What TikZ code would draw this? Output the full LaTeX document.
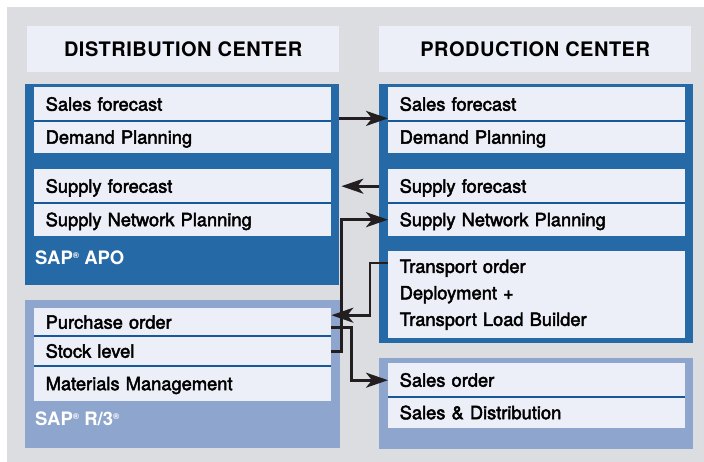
\documentclass[tikz,border=0pt]{standalone}
\usepackage{fontspec}
\setmainfont{TeX Gyre Heros}
\newfontface\cellfont{TeX Gyre Heros}[FakeBold=2.5]
\usepackage{tikz}
\usetikzlibrary{arrows.meta}

\definecolor{bggray}{RGB}{220,221,224}
\definecolor{apoblue}{RGB}{37,105,166}
\definecolor{rthreeblue}{RGB}{142,165,205}
\definecolor{cellbg}{RGB}{236,239,247}
\definecolor{rulebl}{RGB}{22,88,153}
\definecolor{arrowink}{RGB}{35,31,32}

\newcommand\regmark{\raisebox{6pt}{\fontsize{8.5}{8.5}\selectfont\textregistered}}

\begin{document}
\begin{tikzpicture}[>={Stealth[length=22pt,width=15pt,inset=6pt]},x=1pt,y=-1pt,
    cell/.style={rectangle,fill=cellbg,anchor=north west,inner xsep=11.5pt,inner ysep=0pt,
      text width=274pt,align=left,font=\cellfont\fontsize{18.3}{26.5}\selectfont},
    oneline/.style={cell,text height=13pt,text depth=0pt,minimum height=#1},
    head/.style={rectangle,fill=cellbg,anchor=north west,minimum width=312pt,minimum height=46pt,
      text height=14pt,text depth=0pt,
      font=\fontsize{20}{24}\selectfont\bfseries\addfontfeatures{LetterSpace=2.5}},
    brand/.style={anchor=base west,inner sep=0pt,text=white,font=\fontsize{18.5}{22}\selectfont\bfseries},
    sepline/.style={rulebl,line width=2pt},
    flow/.style={->,arrowink,line width=2.7pt}]
  \useasboundingbox (0,0) rectangle (704,462);
  \fill[white] (0,0) rectangle (704,462);
  \fill[bggray] (7,7) rectangle (704,462);

  % column headings
  \node[head] (hdrL) at (27,26) {DISTRIBUTION CENTER};
  \node[head] (hdrR) at (379,26) {PRODUCTION CENTER};

  % system panels
  \fill[apoblue] (25,84) rectangle (339,285);
  \fill[apoblue] (379,84) rectangle (693,343);
  \fill[rthreeblue] (25,300) rectangle (340,448);
  \fill[rthreeblue] (379,358) rectangle (693,449);

  % distribution center, APO
  \node[oneline=34pt] (sfL) at (34,87) {Sales forecast};
  \node[oneline=32pt] (dpL) at (34,121) {Demand Planning};
  \node[oneline=34pt] (supL) at (34,169) {Supply forecast};
  \node[oneline=33pt] (snpL) at (34,203) {Supply Network Planning};
  \node[brand] (apoTag) at (35,265) {SAP\regmark\ APO};

  % distribution center, R/3
  \node[oneline=28pt] (poL) at (34,308) {Purchase order};
  \node[oneline=30pt] (stL) at (34,336) {Stock level};
  \node[oneline=35pt] (mmL) at (34,366) {Materials Management};
  \node[brand] (rthreeTag) at (35,425) {SAP\regmark\ R/3\regmark};

  % production center
  \node[oneline=34pt] (sfR) at (388,87) {Sales forecast};
  \node[oneline=32pt] (dpR) at (388,121) {Demand Planning};
  \node[oneline=34pt] (supR) at (388,169) {Supply forecast};
  \node[oneline=33pt] (snpR) at (388,203) {Supply Network Planning};
  \node[cell,minimum height=87pt] (trR) at (388,251)
    {Transport order\\Deployment +\\Transport Load Builder};
  \node[oneline=34pt] (soR) at (388,363) {Sales order};
  \node[oneline=31pt] (sdR) at (388,397) {Sales \& Distribution};

  % rules between the cells
  \foreach \c in {sfL,supL,poL,stL,sfR,supR,soR}
    \draw[sepline] (\c.south west) -- (\c.south east);

  % flows
  \draw[flow] ([xshift=8pt,yshift=3pt]sfL.south east) -- ([yshift=3pt]sfR.south west);
  \draw[flow] ([xshift=-9pt]supR.west) -- ([xshift=10pt]supL.east);
  \draw[flow] (stL.east) -- ++(10,0) |- (snpR.west);
  \draw[flow] ([yshift=-12pt]trR.north west) -- ++(-18,0) |- ([yshift=7pt]poL.east);
  \draw[flow] ([yshift=-5pt]poL.east) -- ++(20,0) |- (soR.west);
\end{tikzpicture}
\end{document}
